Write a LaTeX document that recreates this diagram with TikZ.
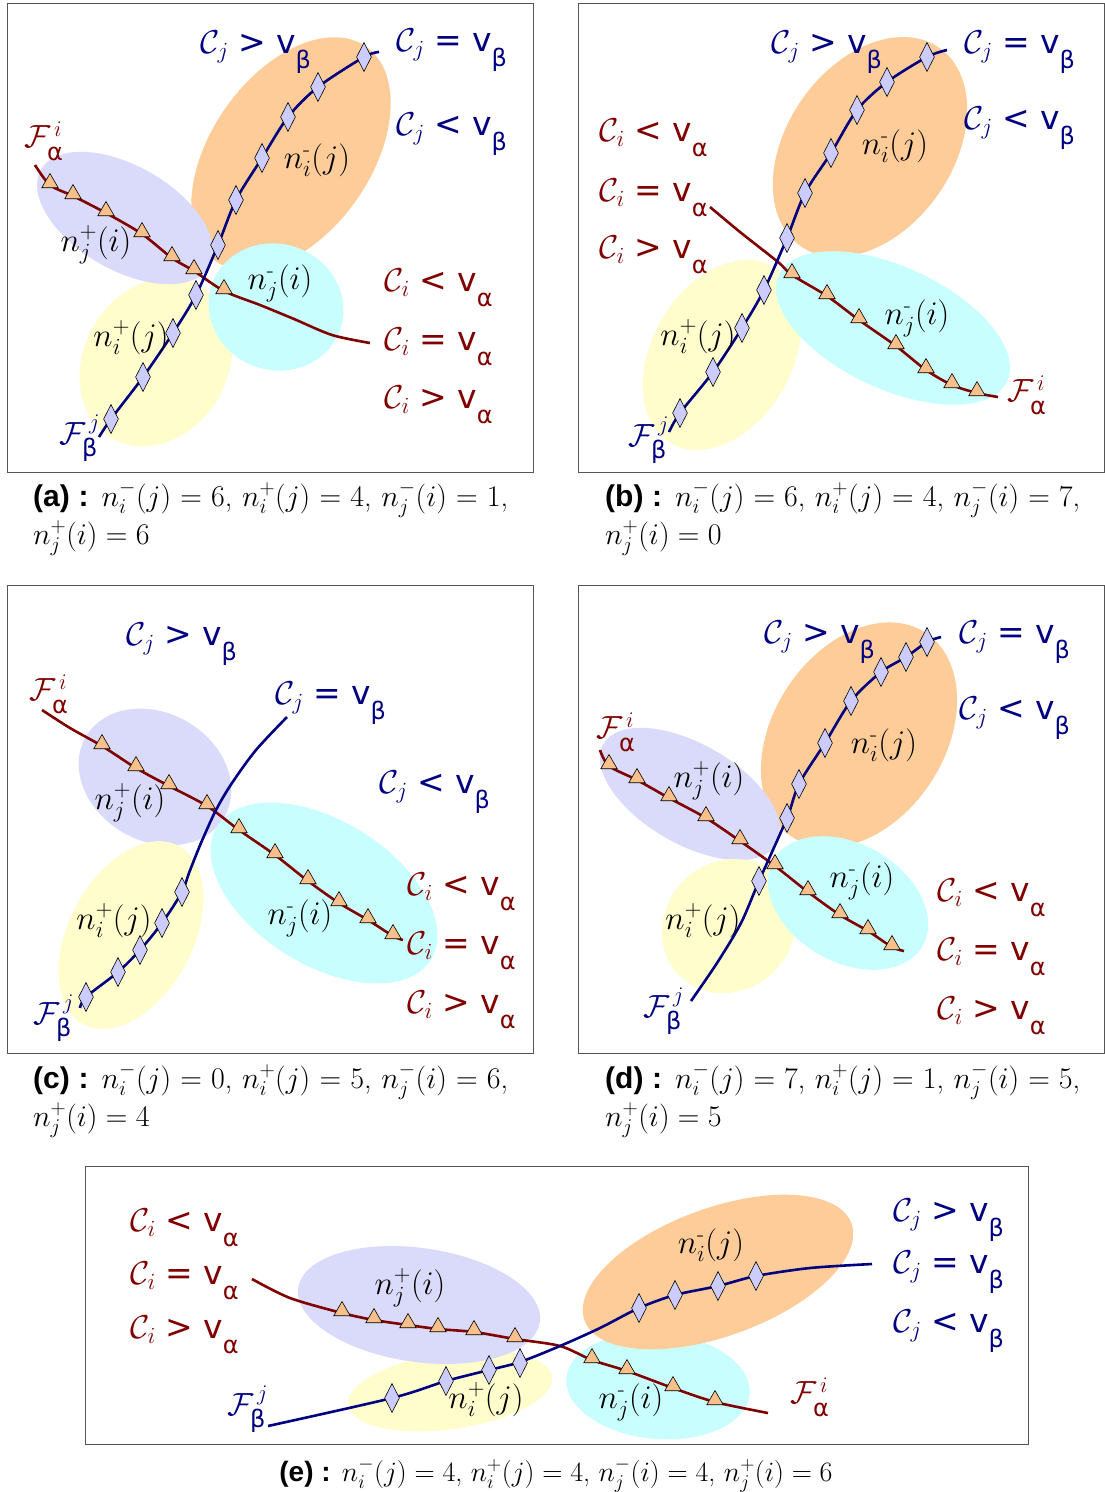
\RequirePackage{fix-cm}
\documentclass[tikz,border=0pt]{standalone}
\usepackage{amsmath}
\usepackage{fontspec}
\newfontfamily\dv{DejaVu Sans}
\newfontfamily\hv{Liberation Sans}
\usetikzlibrary{shapes.geometric}
\definecolor{lav}{RGB}{218,218,250}
\definecolor{org}{RGB}{253,204,153}
\definecolor{cyn}{RGB}{200,255,254}
\definecolor{yel}{RGB}{255,253,204}
\definecolor{diaf}{RGB}{204,204,255}
\definecolor{trif}{RGB}{250,192,140}
\definecolor{lred}{RGB}{128,0,0}
\definecolor{lblue}{RGB}{0,0,128}
\definecolor{frm}{RGB}{85,85,85}
\newcommand\vsb[1]{{\dv v}\raisebox{-0.45em}{\fontsize{24}{24}\selectfont\dv #1}}
\newcommand\clab[3]{$\mathcal{C}_{#1}$\hspace{0.3em}{\dv #2}\hspace{0.3em}\vsb{#3}}
\newcommand\flab[2]{$\mathcal{F}^{\,#1}_{\raisebox{-0.15em}{\fontsize{24}{24}\selectfont\dv #2}}$}
\newcommand\nlab[3]{$n_{#1}^{\text{#2}}(#3)$}
\newcommand\capf{\fontsize{30}{38}\selectfont}
\newcommand\cape{\fontsize{28}{36}\selectfont}
\tikzset{
  panelbox/.style={draw=frm, line width=1pt},
  dia/.style={diamond, draw=black, fill=diaf, inner sep=0pt, minimum width=15pt, minimum height=29pt, line width=0.6pt},
  tri/.style={regular polygon, regular polygon sides=3, draw=black, fill=trif, inner sep=0pt, minimum size=19pt, line width=0.6pt, yshift=2pt},
  redc/.style={draw=lred, line width=2.6pt},
  bluec/.style={draw=lblue, line width=2.6pt},
  lab/.style={inner sep=0pt, anchor=west, font=\fontsize{33}{33}\selectfont},
  flb/.style={inner sep=0pt, anchor=west, font=\fontsize{32}{32}\selectfont},
  nl/.style={inner sep=0pt, font=\fontsize{33}{33}\selectfont},
  captext/.style={inner sep=0pt, anchor=base west},
}
\begin{document}
\begin{tikzpicture}[x=1pt,y=-1pt]
\useasboundingbox[fill=white] (0,0) rectangle (1105,1492);

% ---------------- panel (a)
\draw[panelbox] (7,3) rectangle (533,472);
\fill[org, rotate around={55:(291,154)}] (291,154) ellipse [x radius=131, y radius=80];
\fill[yel, rotate around={60:(156,362)}] (156,362) ellipse [x radius=88, y radius=72];
\fill[lav, rotate around={-30:(125,218)}] (125,218) ellipse [x radius=97, y radius=52];
\fill[cyn, rotate around={-20:(276,307)}] (276,307) ellipse [x radius=68, y radius=63];
\draw[redc] plot[smooth] coordinates {(35,165) (50,185) (73,196) (106,213) (142,234) (172,258) (194,271) (224,291) (260,305) (294,319) (332,335) (370,343)};
\draw[bluec] plot[smooth] coordinates {(99,437) (111,419) (143,377) (173,333) (196,295) (218,245) (236,200) (262,158) (288,117) (318,87) (364,57) (379,52)};
\foreach \x/\y [count=\k] in {50/185,73/196,106/213,142/234,172/258,194/271,224/291} \node[tri] (a-t\k) at (\x,\y) {};
\foreach \x/\y [count=\k] in {111/419,143/377,173/333,196/295,218/245,236/200,262/158,288/117,318/87,364/57} \node[dia] (a-d\k) at (\x,\y) {};
\node[lab, text=lblue] (a-c1) at (200,52) {\clab{j}{>}{β}};
\node[lab, text=lblue] (a-c2) at (396,50) {\clab{j}{=}{β}};
\node[lab, text=lblue] (a-c3) at (396,134) {\clab{j}{<}{β}};
\node[lab, text=lred] (a-c4) at (384,288) {\clab{i}{<}{α}};
\node[lab, text=lred] (a-c5) at (384,347) {\clab{i}{=}{α}};
\node[lab, text=lred] (a-c6) at (384,405) {\clab{i}{>}{α}};
\node[flb, text=lred] (a-fa) at (24,141) {\flab{i}{α}};
\node[flb, text=lblue] (a-fb) at (59,438) {\flab{j}{β}};
\node[nl] (a-n1) at (317,160) {\nlab{i}{-}{j}};
\node[nl] (a-n2) at (96,245) {\nlab{j}{+}{i}};
\node[nl] (a-n3) at (280,283) {\nlab{j}{-}{i}};
\node[nl] (a-n4) at (131,338) {\nlab{i}{+}{j}};
\node[captext] (a-cap) at (33,506) {\parbox[t]{475pt}{\capf{\hv\bfseries (a) :} $n_i^-(j) = 6$, $n_i^+(j) = 4$, $n_j^-(i) = 1$,\linebreak $n_j^+(i) = 6$}};

% ---------------- panel (b)
\draw[panelbox] (578,3) rectangle (1104,472);
\fill[org, rotate around={55:(870,147)}] (870,147) ellipse [x radius=121, y radius=83];
\fill[yel, rotate around={60:(722,355)}] (722,355) ellipse [x radius=102, y radius=70];
\fill[cyn, rotate around={-25:(893,328)}] (893,328) ellipse [x radius=126, y radius=61];
\draw[redc] plot[smooth] coordinates {(710,207) (740,232) (778,262) (792,275) (827,296) (859,320) (896,346) (926,370) (952,385) (977,393) (998,397)};
\draw[bluec] plot[smooth] coordinates {(669,432) (680,413) (713,372) (742,328) (764,290) (787,238) (805,193) (831,153) (857,110) (887,82) (927,57) (947,50)};
\foreach \x/\y [count=\k] in {792/275,827/296,859/320,896/346,926/370,952/385,977/393} \node[tri] (b-t\k) at (\x,\y) {};
\foreach \x/\y [count=\k] in {680/413,713/372,742/328,764/290,787/238,805/193,831/153,857/110,887/82,927/57} \node[dia] (b-d\k) at (\x,\y) {};
\node[lab, text=lblue] (b-c1) at (771,52) {\clab{j}{>}{β}};
\node[lab, text=lblue] (b-c2) at (964,52) {\clab{j}{=}{β}};
\node[lab, text=lblue] (b-c3) at (964,128) {\clab{j}{<}{β}};
\node[lab, text=lred] (b-c4) at (599,138) {\clab{i}{<}{α}};
\node[lab, text=lred] (b-c5) at (599,198) {\clab{i}{=}{α}};
\node[lab, text=lred] (b-c6) at (599,255) {\clab{i}{>}{α}};
\node[flb, text=lred] (b-fa) at (1007,395) {\flab{i}{α}};
\node[flb, text=lblue] (b-fb) at (628,440) {\flab{j}{β}};
\node[nl] (b-n1) at (895,146) {\nlab{i}{-}{j}};
\node[nl] (b-n2) at (917,318) {\nlab{j}{-}{i}};
\node[nl] (b-n3) at (698,337) {\nlab{i}{+}{j}};
\node[captext] (b-cap) at (605,506) {\parbox[t]{475pt}{\capf{\hv\bfseries (b) :} $n_i^-(j) = 6$, $n_i^+(j) = 4$, $n_j^-(i) = 7$,\linebreak $n_j^+(i) = 0$}};

% ---------------- panel (c)
\draw[panelbox] (7,585) rectangle (533,1053);
\fill[lav, rotate around={-30:(155,777)}] (155,777) ellipse [x radius=80, y radius=64];
\fill[yel, rotate around={62:(131,935)}] (131,935) ellipse [x radius=101, y radius=62];
\fill[cyn, rotate around={-32:(324,893)}] (324,893) ellipse [x radius=126, y radius=72];
\draw[redc] plot[smooth] coordinates {(42,710) (70,728) (102,746) (136,768) (169,786) (207,806) (239,830) (275,855) (308,881) (339,903) (368,920) (393,936) (403,940)};
\draw[bluec] plot[smooth] coordinates {(80,1008) (86,997) (118,972) (140,950) (162,923) (182,892) (189,873) (201,843) (216,810) (232,783) (256,750) (287,717)};
\foreach \x/\y [count=\k] in {102/746,136/768,169/786,207/806,239/830,275/855,308/881,339/903,368/920,393/936} \node[tri] (c-t\k) at (\x,\y) {};
\foreach \x/\y [count=\k] in {86/997,118/972,140/950,162/923,182/892} \node[dia] (c-d\k) at (\x,\y) {};
\node[lab, text=lblue] (c-c1) at (126,644) {\clab{j}{>}{β}};
\node[lab, text=lblue] (c-c2) at (275,703) {\clab{j}{=}{β}};
\node[lab, text=lblue] (c-c3) at (379,792) {\clab{j}{<}{β}};
\node[lab, text=lred] (c-c4) at (407,892) {\clab{i}{<}{α}};
\node[lab, text=lred] (c-c5) at (407,951) {\clab{i}{=}{α}};
\node[lab, text=lred] (c-c6) at (407,1010) {\clab{i}{>}{α}};
\node[flb, text=lred] (c-fa) at (29,694) {\flab{i}{α}};
\node[flb, text=lblue] (c-fb) at (33,1018) {\flab{j}{β}};
\node[nl] (c-n1) at (130,803) {\nlab{j}{+}{i}};
\node[nl] (c-n2) at (114,921) {\nlab{i}{+}{j}};
\node[nl] (c-n3) at (300,918) {\nlab{j}{-}{i}};
\node[captext] (c-cap) at (33,1088) {\parbox[t]{475pt}{\capf{\hv\bfseries (c) :} $n_i^-(j) = 0$, $n_i^+(j) = 5$, $n_j^-(i) = 6$,\linebreak $n_j^+(i) = 4$}};

% ---------------- panel (d)
\draw[panelbox] (578,585) rectangle (1104,1053);
\fill[org, rotate around={57:(859,735)}] (859,735) ellipse [x radius=122, y radius=86];
\fill[lav, rotate around={-30:(690,794)}] (690,794) ellipse [x radius=100, y radius=50];
\fill[yel, rotate around={45:(729,926)}] (729,926) ellipse [x radius=70, y radius=64];
\fill[cyn, rotate around={-30:(848,903)}] (848,903) ellipse [x radius=86, y radius=59];
\draw[redc] plot[smooth] coordinates {(600,750) (609,766) (637,780) (669,798) (706,818) (740,841) (775,866) (808,892) (840,915) (868,931) (892,947) (904,951)};
\draw[bluec] plot[smooth] coordinates {(691,1001) (717,963) (741,923) (759,881) (787,818) (799,784) (825,743) (851,701) (881,672) (906,657) (927,642) (941,637)};
\foreach \x/\y [count=\k] in {609/766,637/780,669/798,706/818,740/841,775/866,808/892,840/915,868/931,892/947} \node[tri] (d-t\k) at (\x,\y) {};
\foreach \x/\y [count=\k] in {759/881,787/818,799/784,825/743,851/701,881/672,906/657,927/642} \node[dia] (d-d\k) at (\x,\y) {};
\node[lab, text=lblue] (d-c1) at (764,642) {\clab{j}{>}{β}};
\node[lab, text=lblue] (d-c2) at (959,642) {\clab{j}{=}{β}};
\node[lab, text=lblue] (d-c3) at (959,718) {\clab{j}{<}{β}};
\node[lab, text=lred] (d-c4) at (937,898) {\clab{i}{<}{α}};
\node[lab, text=lred] (d-c5) at (937,957) {\clab{i}{=}{α}};
\node[lab, text=lred] (d-c6) at (937,1016) {\clab{i}{>}{α}};
\node[flb, text=lred] (d-fa) at (596,732) {\flab{i}{α}};
\node[flb, text=lblue] (d-fb) at (643,1011) {\flab{j}{β}};
\node[nl] (d-n1) at (884,745) {\nlab{i}{-}{j}};
\node[nl] (d-n2) at (709,781) {\nlab{j}{+}{i}};
\node[nl] (d-n3) at (862,881) {\nlab{j}{-}{i}};
\node[nl] (d-n4) at (703,921) {\nlab{i}{+}{j}};
\node[captext] (d-cap) at (605,1088) {\parbox[t]{475pt}{\capf{\hv\bfseries (d) :} $n_i^-(j) = 7$, $n_i^+(j) = 1$, $n_j^-(i) = 5$,\linebreak $n_j^+(i) = 5$}};

% ---------------- panel (e)
\draw[panelbox] (85,1166) rectangle (1028,1444);
\fill[yel, rotate around={8:(450,1391)}] (450,1391) ellipse [x radius=103, y radius=38];
\fill[lav, rotate around={-8:(419,1305)}] (419,1305) ellipse [x radius=122, y radius=57];
\fill[cyn, rotate around={-5:(658,1386)}] (658,1386) ellipse [x radius=92, y radius=53];
\fill[org, rotate around={20:(718,1272)}] (718,1272) ellipse [x radius=142, y radius=64];
\draw[redc] plot[smooth] coordinates {(252,1279) (290,1298) (342,1313) (374,1320) (408,1325) (438,1329) (474,1332) (515,1339) (560,1346) (592,1360) (627,1371) (673,1388) (715,1402) (768,1413)};
\draw[bluec] plot[smooth] coordinates {(268,1426) (392,1398) (446,1381) (489,1370) (520,1362) (560,1346) (600,1328) (639,1308) (675,1295) (718,1286) (756,1276) (810,1268) (872,1264)};
\foreach \x/\y [count=\k] in {342/1313,374/1320,408/1325,438/1329,474/1332,515/1339,592/1360,627/1371,673/1388,715/1402} \node[tri] (e-t\k) at (\x,\y) {};
\foreach \x/\y [count=\k] in {392/1398,446/1381,489/1370,520/1363,639/1308,675/1295,718/1286,756/1276} \node[dia] (e-d\k) at (\x,\y) {};
\node[lab, text=lred] (e-c1) at (130,1228) {\clab{i}{<}{α}};
\node[lab, text=lred] (e-c2) at (130,1281) {\clab{i}{=}{α}};
\node[lab, text=lred] (e-c3) at (130,1335) {\clab{i}{>}{α}};
\node[lab, text=lblue] (e-c4) at (893,1220) {\clab{j}{>}{β}};
\node[lab, text=lblue] (e-c5) at (893,1272) {\clab{j}{=}{β}};
\node[lab, text=lblue] (e-c6) at (893,1331) {\clab{j}{<}{β}};
\node[flb, text=lred] (e-fa) at (790,1397) {\flab{i}{α}};
\node[flb, text=lblue] (e-fb) at (227,1409) {\flab{j}{β}};
\node[nl] (e-n1) at (410,1288) {\nlab{j}{+}{i}};
\node[nl] (e-n2) at (486,1400) {\nlab{i}{+}{j}};
\node[nl] (e-n3) at (711,1245) {\nlab{i}{-}{j}};
\node[nl] (e-n4) at (631,1402) {\nlab{j}{-}{i}};
\node[inner sep=0pt, anchor=base] (e-cap) at (556,1481) {\cape{\hv\bfseries (e) :} $n_i^-(j) = 4$, $n_i^+(j) = 4$, $n_j^-(i) = 4$, $n_j^+(i) = 6$};
\end{tikzpicture}
\end{document}
